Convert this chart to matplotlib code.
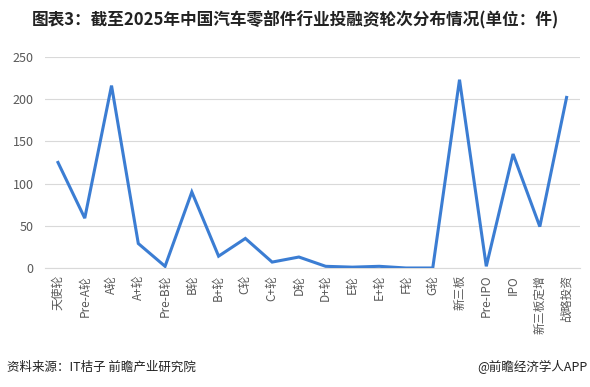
import matplotlib
matplotlib.use("Agg")
import matplotlib.pyplot as plt

plt.rcParams['font.family'] = ['Noto Sans CJK SC', 'DejaVu Sans']

rounds = ["天使轮", "Pre-A轮", "A轮", "A+轮", "Pre-B轮", "B轮", "B+轮", "C轮", "C+轮",
          "D轮", "D+轮", "E轮", "E+轮", "F轮", "G轮", "新三板", "Pre-IPO", "IPO",
          "新三板定增", "战略投资"]
counts = [125, 59, 216, 29, 2, 90, 14, 35, 7, 13, 2, 1, 2, 0, 0, 223, 2, 135, 49, 202]
y_ticks = [0, 50, 100, 150, 200, 250]

fig = plt.figure(figsize=(5.9, 3.87), dpi=100)
ax = fig.add_axes([0.0756, 0.3075, 0.9074, 0.5455])

x = list(range(len(rounds)))
ax.plot(x, counts, color="#3b7dd3", linewidth=2.2, solid_joinstyle="miter", zorder=3)

ax.set_xlim(-0.5, len(rounds) - 0.5)
ax.set_ylim(0, 250)
ax.set_yticks(y_ticks)
ax.set_xticks(x)
ax.set_xticklabels(rounds, rotation=90, fontsize=8.5, color="#595959")
ax.tick_params(axis="y", labelsize=9, labelcolor="#595959", length=0, pad=8)
ax.tick_params(axis="x", length=0, pad=5)
ax.grid(axis="y", color="#d9d9d9", linewidth=0.8)
for s in ["top", "right", "left"]:
    ax.spines[s].set_visible(False)
ax.spines["bottom"].set_color("#d9d9d9")

fig.text(0.5, 0.948, "图表3：截至2025年中国汽车零部件行业投融资轮次分布情况(单位：件)",
         ha="center", va="center", fontsize=12, fontweight="bold", color="#222222")
fig.text(0.012, 0.052, "资料来源：IT桔子 前瞻产业研究院", ha="left", va="center",
         fontsize=9, color="#222222")
fig.text(0.995, 0.052, "@前瞻经济学人APP", ha="right", va="center",
         fontsize=9, color="#222222")

fig.savefig("out.png", dpi=100)
